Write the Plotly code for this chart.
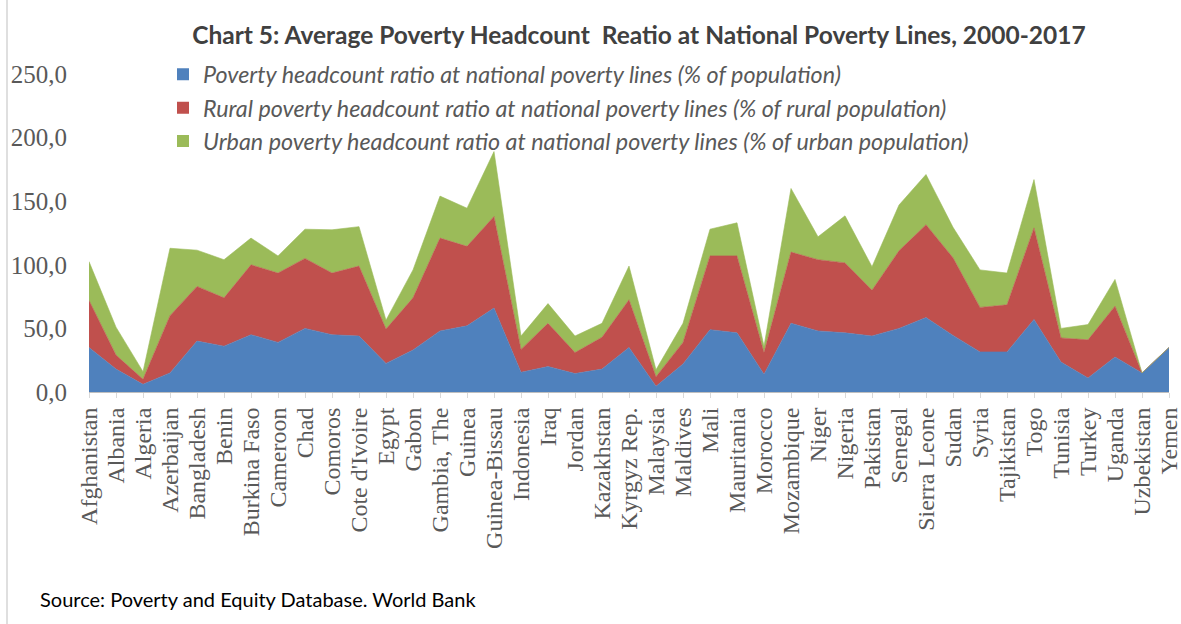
import plotly.graph_objects as go

countries = ["Afghanistan", "Albania", "Algeria", "Azerbaijan", "Bangladesh", "Benin",
             "Burkina Faso", "Cameroon", "Chad", "Comoros", "Cote d'Ivoire", "Egypt",
             "Gabon", "Gambia, The", "Guinea", "Guinea-Bissau", "Indonesia", "Iraq",
             "Jordan", "Kazakhstan", "Kyrgyz Rep.", "Malaysia", "Maldives", "Mali",
             "Mauritania", "Morocco", "Mozambique", "Niger", "Nigeria", "Pakistan",
             "Senegal", "Sierra Leone", "Sudan", "Syria", "Tajikistan", "Togo",
             "Tunisia", "Turkey", "Uganda", "Uzbekistan", "Yemen"]

national = [35, 18, 6, 15, 40, 36, 45, 39, 50, 45, 44, 22.5, 33, 48, 52, 66, 15.5, 20,
            14.5, 18, 35, 4.5, 22, 49, 46.5, 14, 54, 48, 46.5, 44, 50, 58.5, 44.5, 31.5,
            31.5, 57, 23.5, 11, 27.5, 15, 35]
rural = [37, 11, 4, 45, 43, 38, 55, 54.5, 55, 48.5, 55, 27, 41, 73, 62.5, 72, 18, 34,
         16.5, 25, 37.5, 7.5, 17, 58, 60.5, 17, 56, 56, 55, 36, 61, 73, 61, 35,
         37, 72, 19, 30, 40, 0, 0]
urban = [30.5, 22, 6, 53, 28.5, 30, 21, 13.5, 23, 34, 31, 7, 22, 33, 30, 51, 10.5, 15.5,
         13, 11, 26.5, 5.5, 15, 21, 26, 5, 50, 18, 37, 18.5, 36, 39.5, 24, 29.5,
         25, 38, 7.5, 12, 21, 0, 0]

series_names = [
    "Poverty headcount ratio at national poverty lines (% of population)",
    "Rural poverty headcount ratio at national poverty lines (% of rural population)",
    "Urban poverty headcount ratio at national poverty lines (% of urban population)",
]
series_colors = ["#4F81BD", "#C0504D", "#9BBB59"]

y_ticks = [0, 50, 100, 150, 200, 250]
y_ticktext = ["0,0", "50,0", "100,0", "150,0", "200,0", "250,0"]

fig = go.Figure()
for name, vals, col in zip(series_names, [national, rural, urban], series_colors):
    fig.add_trace(go.Scatter(
        x=countries, y=vals, name=name, mode="lines", stackgroup="one",
        line=dict(width=0.6, color=col), fillcolor=col, showlegend=False,
    ))
# legend entries with square swatches (no data drawn)
for name, col in zip(series_names, series_colors):
    fig.add_trace(go.Bar(
        x=[None], y=[None], name=name, marker=dict(color=col, line=dict(width=0)),
        showlegend=True, hoverinfo="skip",
    ))

fig.update_layout(
    width=1181, height=624,
    paper_bgcolor="white", plot_bgcolor="white",
    margin=dict(l=89, r=12, t=74, b=231.5, pad=0),
    title=dict(
        text="<b>Chart 5: Average Poverty Headcount  Reatio at National Poverty Lines, 2000-2017</b>",
        x=0.541, xanchor="center", y=1 - 35 / 624, yanchor="middle", yref="container",
        font=dict(family="Lato", size=24.5, color="#404040"),
    ),
    showlegend=True,
    legend=dict(
        x=(163 - 89) / 1080, y=1.067, xanchor="left", yanchor="top",
        traceorder="normal", bgcolor="rgba(0,0,0,0)",
        font=dict(family="Lato", size=23.3, color="#595959", style="italic"),
        itemwidth=30, tracegroupgap=0,
    ),
    xaxis=dict(
        type="category", range=[0, 40], tickangle=-90, automargin=False,
        tickmode="array", tickvals=countries, ticktext=countries,
        tickfont=dict(family="Liberation Serif", size=24, color="#595959"),
        ticks="outside", ticklen=5, tickcolor="#D9D9D9",
        showline=True, linecolor="#BFBFBF", showgrid=False, zeroline=False,
    ),
    yaxis=dict(
        range=[0, 250], tickvals=y_ticks, ticktext=y_ticktext, automargin=False,
        tickfont=dict(family="Liberation Serif", size=25, color="#595959"),
        showgrid=False, zeroline=False, showline=False, ticks="",
        ticklabelstandoff=21,
    ),
    annotations=[dict(
        text="Source: Poverty and Equity Database. World Bank",
        xref="paper", yref="paper", x=(38 - 89) / 1080, y=(392.5 - 600) / 318.5,
        xanchor="left", yanchor="middle", showarrow=False,
        font=dict(family="Lato", size=20, color="#000000"),
    )],
    shapes=[dict(
        type="line", xref="paper", yref="paper",
        x0=(7 - 89) / 1080, x1=(7 - 89) / 1080, y0=-0.73, y1=1.24,
        line=dict(color="#BFBFBF", width=1),
    )],
)

fig.write_html("out.html", config={"displayModeBar": False},
               post_script="document.body.style.margin='0px';")
